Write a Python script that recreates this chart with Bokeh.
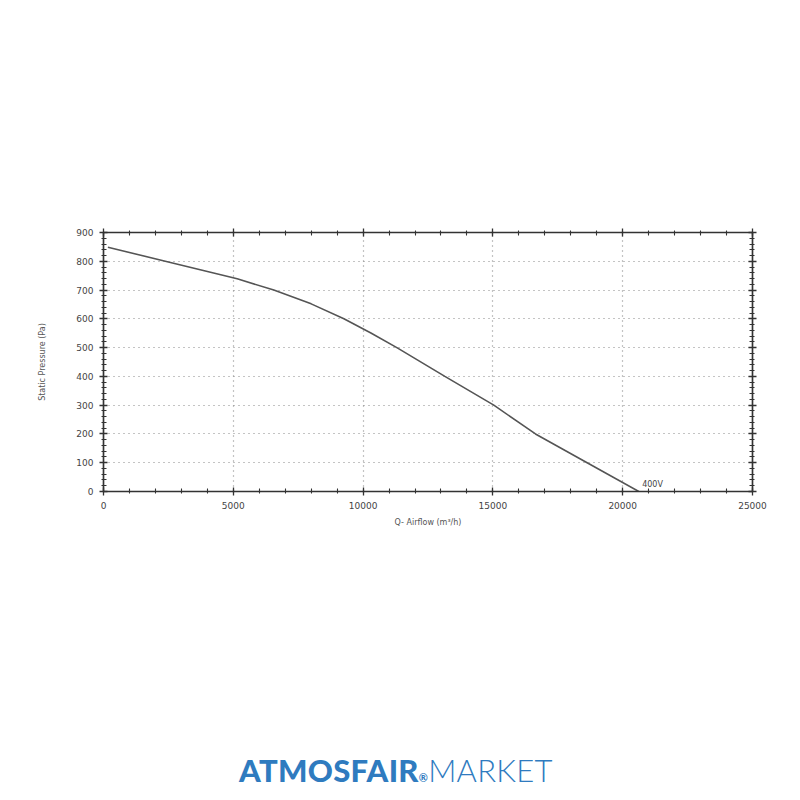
from bokeh.plotting import figure
from bokeh.models import (Range1d, LinearAxis, SingleIntervalTicker, Label, Div)
from bokeh.layouts import column
from bokeh.embed import file_html
from bokeh.resources import INLINE

# data
airflow = [170, 2380, 5150, 6560, 8000, 9260, 10300, 11300, 13150, 15035, 16640, 18630, 20620]
pressure = [849, 800, 739, 700, 652, 600, 551, 500, 400, 300, 200, 100, 0]
curve_label = "400V"
x_label = "Q- Airflow (m³/h)"
y_label = "Static Pressure (Pa)"

FONT = "DejaVu Sans"
AX = "#333333"

p = figure(width=792, height=541, output_backend="svg", toolbar_location=None,
           x_range=Range1d(0, 25000), y_range=Range1d(0, 900),
           min_border_left=103, min_border_right=40, min_border_top=232, min_border_bottom=50,
           x_axis_label=x_label, y_axis_label=y_label)
p.background_fill_color = "white"
p.border_fill_color = "white"
p.outline_line_color = AX
p.outline_line_width = 1.2

xt = SingleIntervalTicker(interval=5000, num_minor_ticks=5)
yt = SingleIntervalTicker(interval=100, num_minor_ticks=5)
p.xaxis.ticker = xt
p.yaxis.ticker = yt
p.xgrid.ticker = xt
p.ygrid.ticker = yt

for g in (p.xgrid, p.ygrid):
    g.grid_line_color = "#888888"
    g.grid_line_dash = "1 4"
    g.grid_line_width = 1.2

def style_axis(ax, labels=True):
    ax.axis_line_color = AX
    ax.axis_line_width = 1.5
    ax.major_tick_line_color = AX
    ax.minor_tick_line_color = AX
    ax.major_tick_line_width = 1.3
    ax.minor_tick_line_width = 1.1
    ax.major_tick_in = 4
    ax.major_tick_out = 4
    ax.minor_tick_in = 3
    ax.minor_tick_out = 2
    ax.major_label_text_font = FONT
    ax.major_label_text_font_size = "9px"
    ax.major_label_text_color = "#444444" if labels else None
    ax.axis_label_text_font = FONT
    ax.axis_label_text_font_size = "8px"
    ax.axis_label_text_font_style = "normal"
    ax.axis_label_text_color = "#555555"

style_axis(p.xaxis[0])
style_axis(p.yaxis[0])
p.xaxis.major_label_standoff = 6
p.xaxis.axis_label_standoff = 6
p.yaxis.major_label_standoff = 6
p.yaxis.axis_label_standoff = 26

top = LinearAxis(ticker=SingleIntervalTicker(interval=5000, num_minor_ticks=5))
right = LinearAxis(ticker=SingleIntervalTicker(interval=100, num_minor_ticks=5))
style_axis(top, labels=False)
style_axis(right, labels=False)
p.add_layout(top, "above")
p.add_layout(right, "right")

p.line(airflow, pressure, line_color="#555555", line_width=1.6)

p.add_layout(Label(x=20750, y=8, text=curve_label, text_font=FONT, text_font_size="8px",
                   text_color="#444444"))

logo = Div(
    text='<div style="width:792px;text-align:center;font-family:Lato, \'Open Sans\', sans-serif;'
         'color:#2f7bbf;font-size:31px;letter-spacing:0.3px;">'
         '<span style="font-weight:900;">ATMOSFAIR</span>'
         '<span style="font-size:11px;font-weight:700;">&#174;</span>'
         '<span style="font-weight:300;">MARKET</span></div>',
    width=792, margin=(207, 0, 0, 0))

layout = column(p, logo)
open("out.html", "w").write(file_html(layout, INLINE))
